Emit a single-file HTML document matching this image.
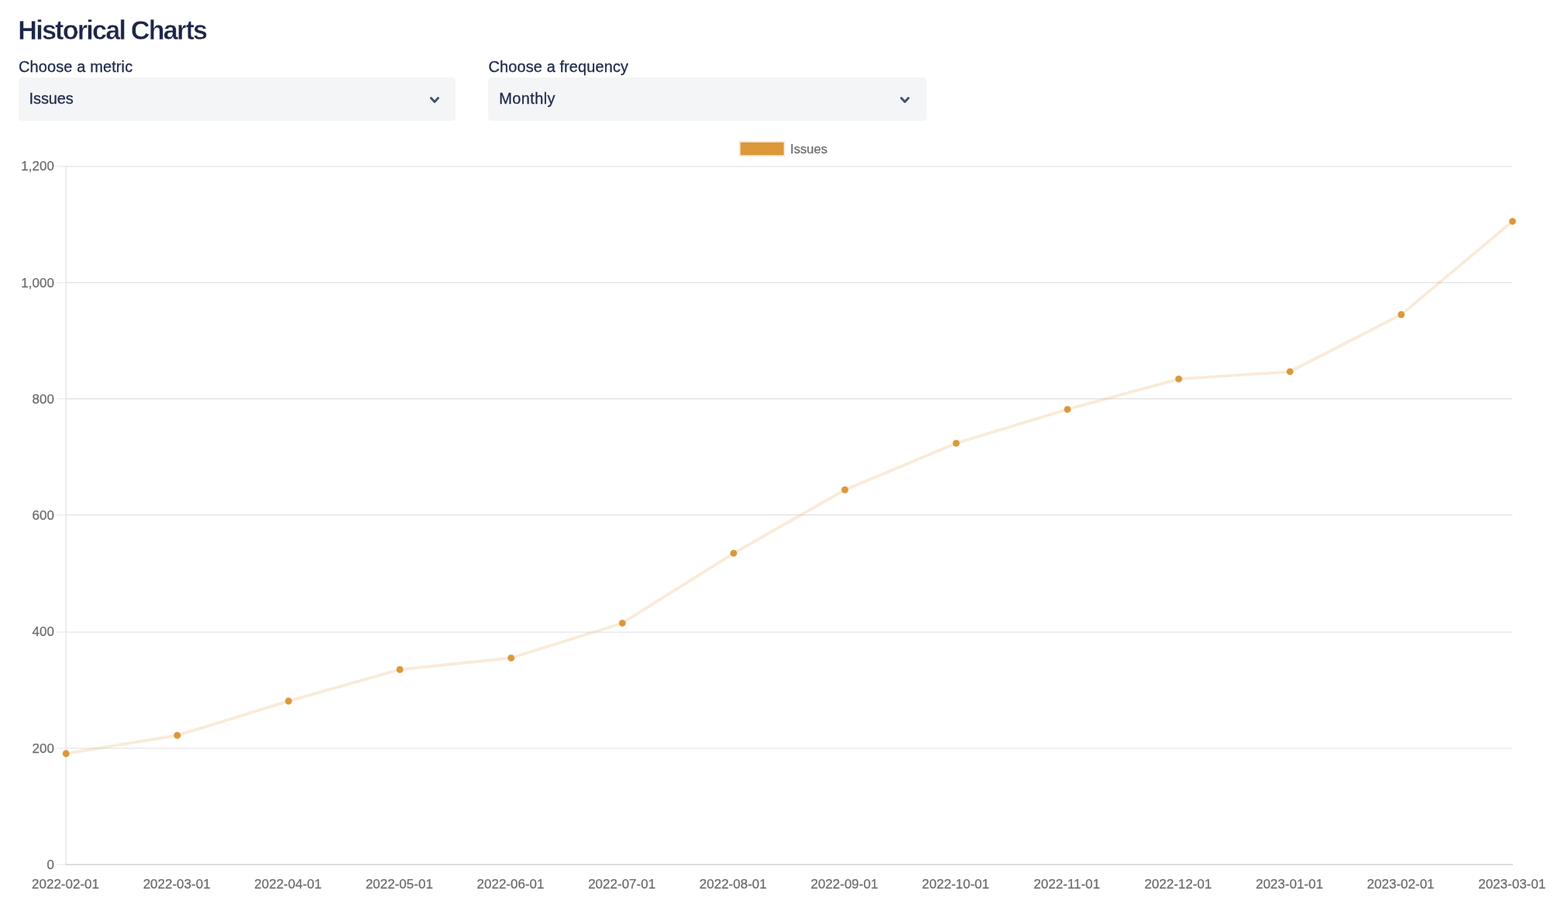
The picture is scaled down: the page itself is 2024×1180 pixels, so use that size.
<!DOCTYPE html>
<html lang="en">
<head>
<meta charset="utf-8">
<title>Historical Charts</title>
<style>
html, body { margin: 0; padding: 0; background: #ffffff; }
body { width: 2024px; height: 1180px; position: relative; overflow: hidden;
  font-family: "Liberation Sans", sans-serif; color: #1f2a4b; }
h1 { position: absolute; left: 23.3px; top: 18.8px; margin: 0; font-size: 34.2px; line-height: 40px;
  font-weight: 700; letter-spacing: -1.8px; -webkit-text-stroke: 0.4px #ffffff; color: #1d2647; white-space: nowrap; }
.field { position: absolute; top: 74px; height: 82px; }
.field label { position: absolute; left: 0; top: 0; font-size: 20px; line-height: 24px; color: #1f2a4b;
  -webkit-text-stroke: 0.3px #1f2a4b; white-space: nowrap; }
.select { position: absolute; left: 0; top: 25.6px; height: 56.1px; background: #f4f5f7; border-radius: 4.3px; }
.select .value { position: absolute; top: 15.4px; font-size: 20px; line-height: 24px; color: #1f2a4b;
  -webkit-text-stroke: 0.3px #1f2a4b; white-space: nowrap; }
.select .chev { position: absolute; top: 23.4px; width: 16px; height: 12px; line-height: 0; }
.select .chev polyline { fill: none; stroke: #444f6e; stroke-width: 2.9; stroke-linecap: round; stroke-linejoin: round; }
.chart { position: absolute; left: 0; top: 0; font-family: "Liberation Sans", sans-serif; }
.chart line { stroke-width: 1.42; }
.chart .ticks line { stroke: #ededed; }
.chart .grid line { stroke: #e6e6e6; }
.chart .grid line.zero { stroke: #d2d2d2; }
.chart text { font-size: 17px; fill: #6c6c6c; stroke: #6c6c6c; stroke-width: 0.25; }
.chart .swatch { fill: #dc9839; stroke: rgba(225,155,65,0.2); stroke-width: 3.8; }
.chart .series { fill: none; stroke: rgba(225,155,65,0.2); stroke-width: 3.8; stroke-linejoin: round; stroke-linecap: butt; }
.chart .points circle { fill: #dc9839; stroke: rgba(225,155,65,0.2); stroke-width: 1.42; }
</style>
</head>
<body>
<h1>Historical Charts</h1>

<div class="field" style="left:23.7px;width:564.8px">
  <label style="left:0.2px;letter-spacing:0.12px">Choose a metric</label>
  <div class="select" style="width:564.8px" role="combobox" aria-expanded="false">
    <span class="value" style="left:13.9px;letter-spacing:-0.12px">Issues</span>
    <span class="chev" style="left:528.95px"><svg width="16" height="12" viewBox="0 0 16 12" aria-hidden="true"><polyline points="3.4,3.45 8,8.45 12.6,3.45"/></svg></span>
  </div>
</div>

<div class="field" style="left:630.1px;width:566px">
  <label style="left:0.5px;letter-spacing:0.08px">Choose a frequency</label>
  <div class="select" style="width:566px" role="combobox" aria-expanded="false">
    <span class="value" style="left:14.2px;letter-spacing:0.38px">Monthly</span>
    <span class="chev" style="left:529.55px"><svg width="16" height="12" viewBox="0 0 16 12" aria-hidden="true"><polyline points="3.4,3.45 8,8.45 12.6,3.45"/></svg></span>
  </div>
</div>

<svg class="chart" width="2024" height="1180" viewBox="0 0 2024 1180" role="img" aria-label="Issues over time, monthly">
  <g class="ticks">
    <line x1="73.4" y1="214.90" x2="85.20" y2="214.90"/>
    <line x1="73.4" y1="364.80" x2="85.20" y2="364.80"/>
    <line x1="73.4" y1="514.80" x2="85.20" y2="514.80"/>
    <line x1="73.4" y1="664.80" x2="85.20" y2="664.80"/>
    <line x1="73.4" y1="816.10" x2="85.20" y2="816.10"/>
    <line x1="73.4" y1="966.10" x2="85.20" y2="966.10"/>
    <line x1="73.4" y1="1116.25" x2="85.20" y2="1116.25"/>
  </g>
  <g class="grid">
    <line x1="85.20" y1="214.90" x2="1952.40" y2="214.90"/>
    <line x1="85.20" y1="364.80" x2="1952.40" y2="364.80"/>
    <line x1="85.20" y1="514.80" x2="1952.40" y2="514.80"/>
    <line x1="85.20" y1="664.80" x2="1952.40" y2="664.80"/>
    <line x1="85.20" y1="816.10" x2="1952.40" y2="816.10"/>
    <line x1="85.20" y1="966.10" x2="1952.40" y2="966.10"/>
    <line class="zero" x1="84.50" y1="1116.25" x2="1952.90" y2="1116.25"/>
    <line x1="85.20" y1="214.20" x2="85.20" y2="1115.55"/>
  </g>
  <g class="legend">
    <rect class="swatch" x="955.7" y="183.8" width="56" height="16.5"/>
    <text x="1020.1" y="197.8" style="font-size:16.6px">Issues</text>
  </g>
  <g class="yaxis" text-anchor="end">
    <text x="69.9" y="219.50">1,200</text>
    <text x="69.9" y="370.85">1,000</text>
    <text x="69.9" y="520.85">800</text>
    <text x="69.9" y="670.85">600</text>
    <text x="69.9" y="820.80">400</text>
    <text x="69.9" y="972.05">200</text>
    <text x="69.9" y="1122.05">0</text>
  </g>
  <g class="xaxis" text-anchor="middle">
    <text x="84.50" y="1147.2">2022-02-01</text>
    <text x="228.13" y="1147.2">2022-03-01</text>
    <text x="371.76" y="1147.2">2022-04-01</text>
    <text x="515.39" y="1147.2">2022-05-01</text>
    <text x="659.02" y="1147.2">2022-06-01</text>
    <text x="802.65" y="1147.2">2022-07-01</text>
    <text x="946.28" y="1147.2">2022-08-01</text>
    <text x="1089.92" y="1147.2">2022-09-01</text>
    <text x="1233.55" y="1147.2">2022-10-01</text>
    <text x="1377.18" y="1147.2">2022-11-01</text>
    <text x="1520.81" y="1147.2">2022-12-01</text>
    <text x="1664.44" y="1147.2">2023-01-01</text>
    <text x="1808.07" y="1147.2">2023-02-01</text>
    <text x="1951.70" y="1147.2">2023-03-01</text>
  </g>
  <polyline class="series" points="85.20,972.90 228.83,949.40 372.46,905.10 516.09,864.40 659.72,849.50 803.35,804.45 946.98,714.30 1090.62,632.40 1234.25,572.20 1377.88,528.45 1521.51,489.30 1665.14,479.80 1808.77,406.10 1952.40,285.80"/>
  <g class="points">
    <circle cx="85.20" cy="972.90" r="4.3"/>
    <circle cx="228.83" cy="949.40" r="4.3"/>
    <circle cx="372.46" cy="905.10" r="4.3"/>
    <circle cx="516.09" cy="864.40" r="4.3"/>
    <circle cx="659.72" cy="849.50" r="4.3"/>
    <circle cx="803.35" cy="804.45" r="4.3"/>
    <circle cx="946.98" cy="714.30" r="4.3"/>
    <circle cx="1090.62" cy="632.40" r="4.3"/>
    <circle cx="1234.25" cy="572.20" r="4.3"/>
    <circle cx="1377.88" cy="528.45" r="4.3"/>
    <circle cx="1521.51" cy="489.30" r="4.3"/>
    <circle cx="1665.14" cy="479.80" r="4.3"/>
    <circle cx="1808.77" cy="406.10" r="4.3"/>
    <circle cx="1952.40" cy="285.80" r="4.3"/>
  </g>
</svg>
</body>
</html>
